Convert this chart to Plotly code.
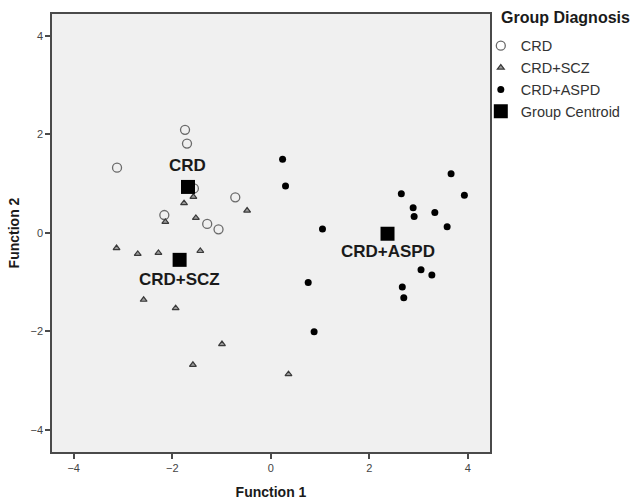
import plotly.graph_objects as go

# CRD group (open circles)
crd_x = [-1.74, -1.70, -3.12, -1.56, -0.72, -2.16, -1.29, -1.06]
crd_y = [2.09, 1.81, 1.32, 0.90, 0.72, 0.36, 0.18, 0.07]

# CRD+SCZ group (triangles)
scz_x = [-1.57, -1.76, -0.48, -1.52, -2.14, -3.13, -2.70, -2.28, -1.43, -2.58, -1.93, -0.99, -1.58, 0.36]
scz_y = [0.73, 0.60, 0.45, 0.30, 0.22, -0.31, -0.43, -0.41, -0.37, -1.36, -1.53, -2.26, -2.68, -2.87]

# CRD+ASPD group (filled dots)
aspd_x = [0.24, 0.30, 1.05, 0.76, 0.88, 2.65, 2.89, 2.91, 3.33, 3.58, 3.66, 3.93, 3.05, 3.27, 2.67, 2.70]
aspd_y = [1.49, 0.95, 0.075, -1.01, -2.01, 0.79, 0.51, 0.33, 0.41, 0.12, 1.20, 0.76, -0.75, -0.86, -1.10, -1.32]

# Group centroids
centroid_names = ["CRD", "CRD+SCZ", "CRD+ASPD"]
centroid_x = [-1.68, -1.85, 2.37]
centroid_y = [0.93, -0.55, -0.02]
label_shift = [21, -20, -18]

x_ticks = [-4, -2, 0, 2, 4]
y_ticks = [-4, -2, 0, 2, 4]

FONT = "Liberation Sans, Arial, sans-serif"

fig = go.Figure()
fig.add_trace(go.Scatter(
    x=crd_x, y=crd_y, mode="markers", name="CRD",
    marker=dict(symbol="circle-open", size=9, color="#6a6a6a", line=dict(width=1.3, color="#6a6a6a")),
))
fig.add_trace(go.Scatter(
    x=scz_x, y=scz_y, mode="markers", name="CRD+SCZ",
    marker=dict(symbol="triangle-up", size=6, color="#9a9a9a", line=dict(width=1.2, color="#3a3a3a")),
))
fig.add_trace(go.Scatter(
    x=aspd_x, y=aspd_y, mode="markers", name="CRD+ASPD",
    marker=dict(symbol="circle", size=7, color="#000000"),
))
fig.add_trace(go.Scatter(
    x=centroid_x, y=centroid_y, mode="markers", name="Group Centroid",
    marker=dict(symbol="square", size=14, color="#000000"),
))

for name, cx, cy, sh in zip(centroid_names, centroid_x, centroid_y, label_shift):
    fig.add_annotation(x=cx, y=cy, text="<b>" + name + "</b>", showarrow=False, yshift=sh,
                       font=dict(family=FONT, size=17, color="#1a1a1a"))

# legend heading
fig.add_annotation(xref="paper", yref="paper", x=1.02, y=0.991, xanchor="left", yanchor="middle",
                   text="<b>Group Diagnosis</b>", showarrow=False,
                   font=dict(family=FONT, size=16, color="#1a1a1a"))

axis_common = dict(
    showgrid=False, zeroline=False, showline=True, linecolor="#4a4a4a", linewidth=1.5,
    mirror=True, ticks="outside", ticklen=5, tickwidth=1.5, tickcolor="#4a4a4a",
    tickfont=dict(family=FONT, size=11, color="#444444"), automargin=False,
)

fig.update_layout(
    width=635, height=500,
    margin=dict(l=52, r=145, t=14, b=48, autoexpand=False),
    paper_bgcolor="white", plot_bgcolor="#f0f0f0",
    font=dict(family=FONT, color="#1a1a1a"),
    xaxis=dict(range=[-4.44, 4.45], tickvals=x_ticks,
               title=dict(text="<b>Function 1</b>", font=dict(family=FONT, size=14, color="#1a1a1a"), standoff=15),
               **axis_common),
    yaxis=dict(range=[-4.45, 4.44], tickvals=y_ticks,
               title=dict(text="<b>Function 2</b>", font=dict(family=FONT, size=14, color="#1a1a1a"), standoff=8),
               **axis_common),
    legend=dict(
        x=0.979, y=0.964, xanchor="left", yanchor="top",
        font=dict(family=FONT, size=14.5, color="#333333"),
        bgcolor="rgba(0,0,0,0)", itemwidth=30, tracegroupgap=0,
    ),
    showlegend=True,
)

fig.write_html("out.html", config={"displayModeBar": False},
               post_script="document.body.style.margin='0';")
